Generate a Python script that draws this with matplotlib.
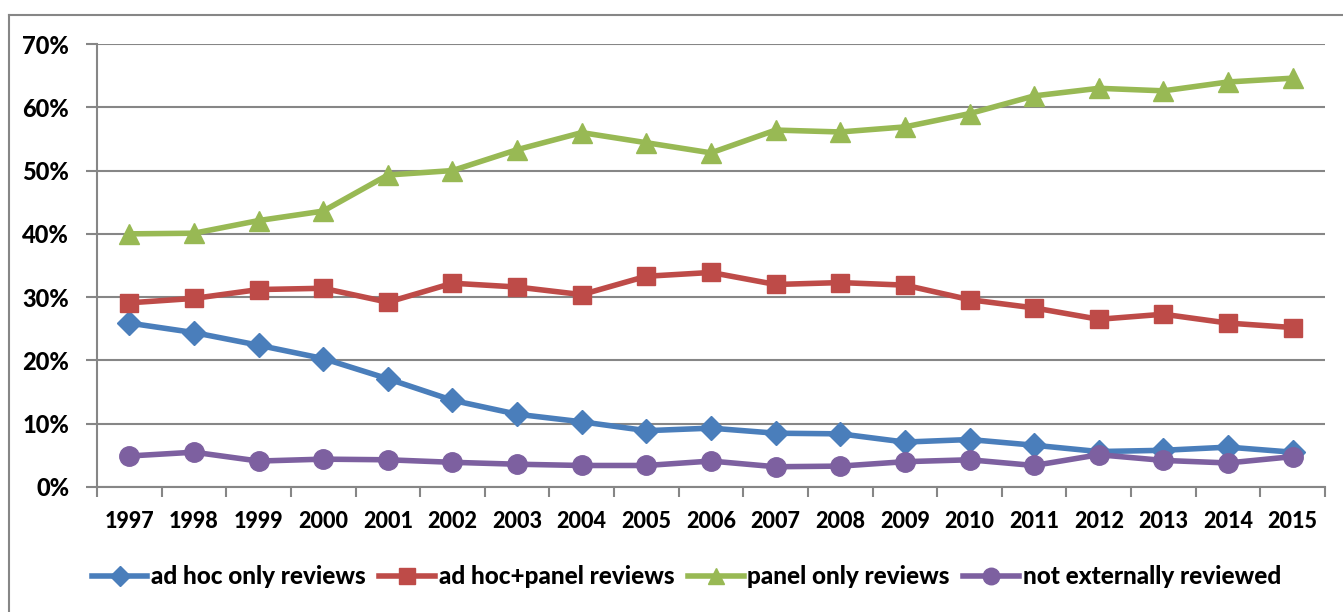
import matplotlib
matplotlib.use("Agg")
import matplotlib.pyplot as plt
from matplotlib.lines import Line2D

# データ
years = [str(y) for y in range(1997, 2016)]
adhoc_only = [25.9, 24.4, 22.4, 20.3, 17.1, 13.7, 11.5, 10.3, 8.9, 9.3,
              8.5, 8.4, 7.1, 7.5, 6.6, 5.6, 5.8, 6.3, 5.5]
adhoc_panel = [29.1, 29.8, 31.2, 31.4, 29.2, 32.2, 31.6, 30.4, 33.3, 33.9,
               32.0, 32.3, 31.9, 29.6, 28.3, 26.5, 27.3, 25.9, 25.2]
panel_only = [40.0, 40.1, 42.1, 43.6, 49.3, 50.0, 53.3, 56.0, 54.4, 52.8,
              56.4, 56.1, 56.9, 59.0, 61.8, 63.0, 62.6, 64.0, 64.6]
not_reviewed = [4.9, 5.5, 4.1, 4.4, 4.3, 3.9, 3.6, 3.4, 3.4, 4.1,
                3.2, 3.3, 4.0, 4.3, 3.4, 5.1, 4.2, 3.8, 4.8]
series_names = ["ad hoc only reviews", "ad hoc+panel reviews",
                "panel only reviews", "not externally reviewed"]

plt.rcParams["font.family"] = ["Lato", "DejaVu Sans"]
plt.rcParams["font.weight"] = "black"

grid_col = "#868686"
fig = plt.figure(figsize=(13.43, 6.12), dpi=100)
ax = fig.add_axes([97 / 1343, 1 - 487 / 612, (1325 - 97) / 1343, (487 - 44) / 612])

x = list(range(len(years)))
ax.plot(x, adhoc_only, color="#4A7EBB", lw=4, marker="D", ms=12, label=series_names[0])
ax.plot(x, adhoc_panel, color="#BE4B48", lw=4, marker="s", ms=13, label=series_names[1])
ax.plot(x, panel_only, color="#98B954", lw=4, marker="^", ms=14, label=series_names[2])
ax.plot(x, not_reviewed, color="#7D60A0", lw=4, marker="o", ms=14, label=series_names[3])

ax.set_xlim(-0.5, len(years) - 0.5)
ax.set_ylim(0, 70)
ax.set_yticks(range(0, 71, 10))
ax.set_yticklabels([f"{v}%" for v in range(0, 71, 10)], fontsize=17, fontweight="black")
ax.yaxis.grid(True, color=grid_col, lw=1.5)
ax.set_axisbelow(True)

# 区切り目盛り + ラベル
ax.set_xticks([i - 0.5 for i in range(len(years) + 1)])
ax.set_xticklabels([])
ax.set_xticks(x, minor=True)
ax.set_xticklabels(years, minor=True, fontsize=15.5, fontweight="black")
ax.tick_params(axis="x", which="major", length=7, color=grid_col, width=1.5)
ax.tick_params(axis="x", which="minor", length=0, pad=17)
ax.tick_params(axis="y", length=8, color=grid_col, width=1.5, pad=12)

for s in ["top", "right"]:
    ax.spines[s].set_visible(False)
for s in ["left", "bottom"]:
    ax.spines[s].set_color(grid_col)
    ax.spines[s].set_linewidth(1.5)

# 外枠
fig.add_artist(Line2D([9 / 1343, 9 / 1343], [0, 1 - 15 / 612], transform=fig.transFigure,
                      color=grid_col, lw=1.5))
fig.add_artist(Line2D([9 / 1343, 1], [1 - 15 / 612, 1 - 15 / 612], transform=fig.transFigure,
                      color=grid_col, lw=1.5))

fig.legend(loc="center", bbox_to_anchor=(0.511, 1 - 577 / 612), ncol=4, frameon=False,
           prop={"size": 17.5, "weight": "black"}, handlelength=2.3, handletextpad=0.15,
           columnspacing=0.55, markerscale=0.85)

plt.savefig("out.png", dpi=100)
